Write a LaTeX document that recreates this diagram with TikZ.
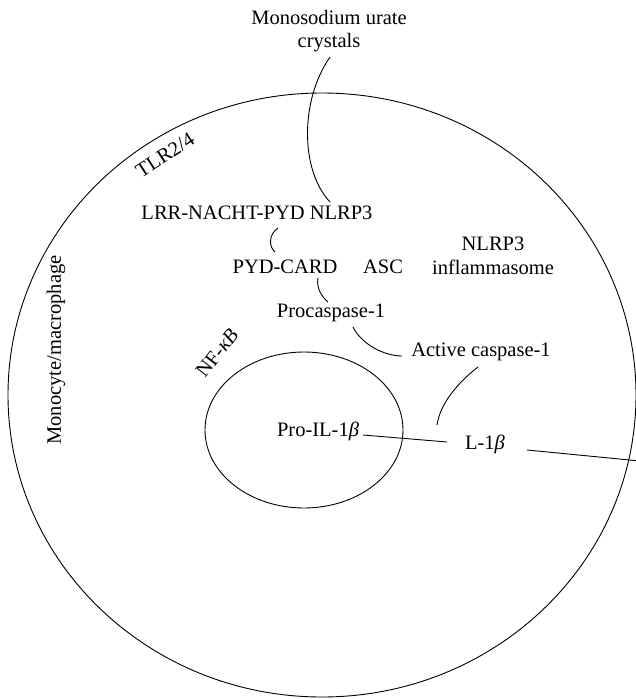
\documentclass[tikz,border=0pt]{standalone}
\usepackage{fontspec}
\setmainfont{Liberation Serif}
\usetikzlibrary{calc}
\begin{document}
\begin{tikzpicture}[x=1pt,y=-1pt,
  lbl/.style={inner sep=0pt, font=\fontsize{20.5}{23.5}\selectfont, align=center},
  memb/.style={draw, line width=0.9pt},
  link/.style={draw, line width=0.9pt}]
\useasboundingbox (0,0) rectangle (636,699);
% cell and nucleus
\draw[memb] (322,395) ellipse [x radius=314, y radius=302];
\draw[memb] (304,430) ellipse [x radius=99, y radius=78];
% labels
\node[lbl] (msu) at (329,31) {Monosodium urate\\crystals};
\node[lbl, rotate=33] (tlr) at (165,155) {TLR2/4};
\node[lbl] (nlrp3) at (257,213) {LRR-NACHT-PYD NLRP3};
\node[lbl] (pyd) at (285,267) {PYD-CARD};
\node[lbl] (asc) at (383,267) {ASC};
\node[lbl] (infl) at (493,256) {NLRP3\\inflammasome};
\node[lbl] (procasp) at (331,313) {Procaspase-1};
\node[lbl] (actcasp) at (481,352) {Active caspase-1};
\node[lbl, rotate=52] (nfkb) at (217,353) {NF-{\itshape κB}};
\node[lbl] (proil) at (318,431) {Pro-IL-1{\itshape β}};
\node[lbl] (il) at (485,444) {L-1{\itshape β}};
\node[lbl, rotate=90] (mono) at (56,350) {Monocyte/macrophage};
% connector end points
\coordinate (a1) at (330,57);  \coordinate (a2) at (330,202);
\coordinate (b1) at (278,228); \coordinate (b2) at (275,252);
\coordinate (c1) at (318,278); \coordinate (c2) at (328,302);
\coordinate (d1) at (353,327); \coordinate (d2) at (402,356);
\coordinate (e1) at (478,367); \coordinate (e2) at (437,425);
\coordinate (f1) at (363,435); \coordinate (f2) at (447,442);
\coordinate (g1) at (527,450); \coordinate (g2) at (640,461);
% connectors
\draw[link] (a1) .. controls (300,100) and (300,170) .. (a2);
\draw[link] (b1) .. controls (268,235) and (269,247) .. (b2);
\draw[link] (c1) .. controls (316,288) and (322,297) .. (c2);
\draw[link] (d1) .. controls (362,345) and (385,356) .. (d2);
\draw[link] (e1) .. controls (455,385) and (440,405) .. (e2);
\draw[link] (f1) -- (f2);
\draw[link] (g1) -- (g2);
\end{tikzpicture}
\end{document}
